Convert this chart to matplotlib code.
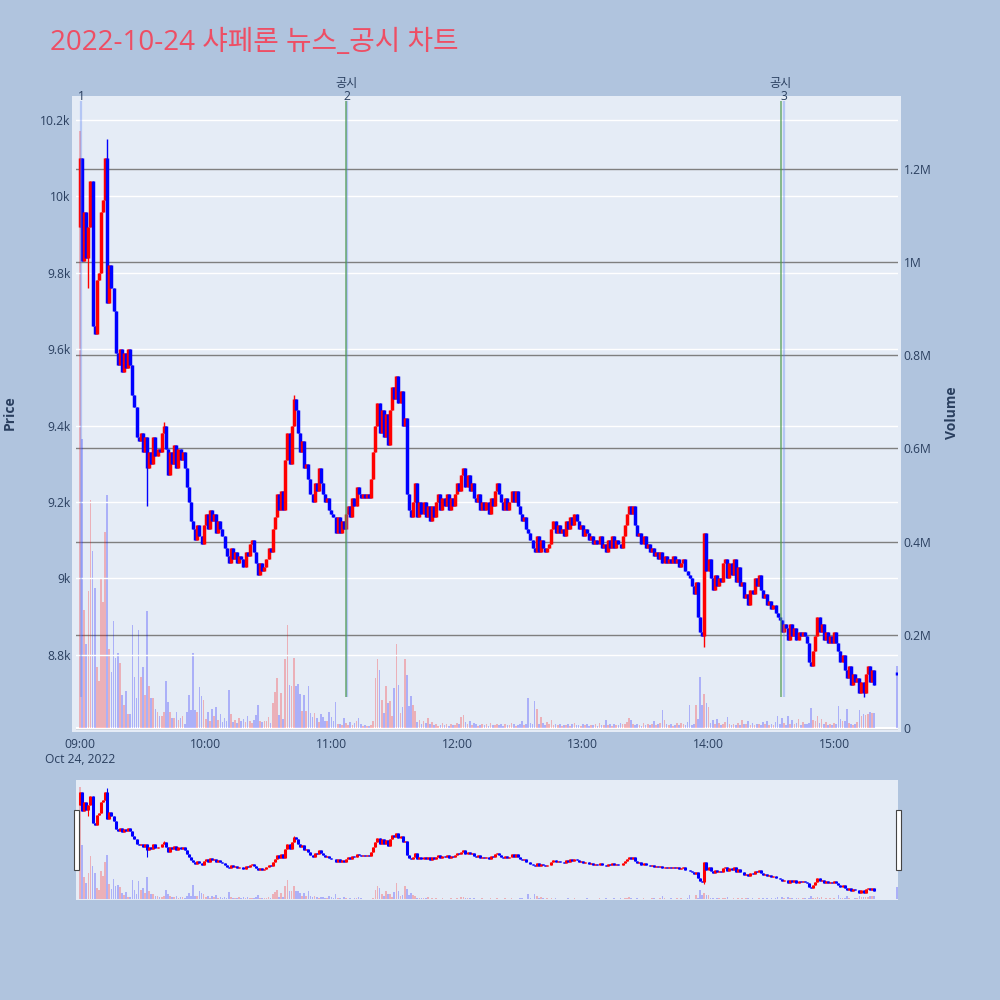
import matplotlib
matplotlib.use('Agg')
import matplotlib.pyplot as plt
from matplotlib.patches import Rectangle

title = '2022-10-24 샤페론 뉴스_공시 차트'
hour_labels = ['09:00', '10:00', '11:00', '12:00', '13:00', '14:00', '15:00']
date_label = 'Oct 24, 2022'

# one candle per minute from 09:00 (index 0) to 15:19, then the 15:30 closing auction
minutes = list(range(380)) + [390]
first_open = 9920
auction_open = 8750
closes = [
    10100, 9830, 9960, 9840, 9920, 10040, 9660, 9640, 9780, 9800,
    9960, 9990, 10100, 9720, 9820, 9760, 9700, 9590, 9560, 9600,
    9540, 9590, 9550, 9600, 9560, 9480, 9450, 9370, 9360, 9380,
    9330, 9370, 9290, 9330, 9300, 9370, 9320, 9340, 9330, 9380,
    9400, 9340, 9270, 9330, 9300, 9350, 9290, 9340, 9310, 9330,
    9290, 9240, 9200, 9150, 9130, 9100, 9140, 9110, 9090, 9140,
    9170, 9130, 9180, 9150, 9170, 9120, 9150, 9130, 9110, 9080,
    9060, 9040, 9080, 9050, 9070, 9040, 9060, 9050, 9030, 9070,
    9060, 9090, 9100, 9070, 9040, 9010, 9040, 9020, 9030, 9050,
    9080, 9070, 9130, 9160, 9220, 9180, 9230, 9180, 9310, 9380,
    9300, 9400, 9470, 9440, 9380, 9330, 9360, 9290, 9300, 9260,
    9220, 9200, 9250, 9230, 9290, 9250, 9220, 9200, 9210, 9180,
    9170, 9160, 9120, 9160, 9120, 9150, 9130, 9170, 9190, 9160,
    9210, 9190, 9240, 9220, 9210, 9220, 9210, 9220, 9210, 9260,
    9330, 9400, 9460, 9380, 9440, 9370, 9430, 9350, 9440, 9500,
    9470, 9530, 9460, 9490, 9400, 9420, 9220, 9180, 9160, 9200,
    9250, 9160, 9200, 9170, 9200, 9160, 9190, 9150, 9190, 9160,
    9200, 9220, 9180, 9210, 9190, 9220, 9180, 9210, 9190, 9220,
    9250, 9230, 9270, 9290, 9240, 9270, 9230, 9250, 9210, 9200,
    9220, 9180, 9200, 9180, 9200, 9170, 9210, 9190, 9230, 9250,
    9220, 9200, 9180, 9210, 9180, 9200, 9230, 9200, 9230, 9190,
    9170, 9150, 9160, 9130, 9120, 9100, 9080, 9070, 9110, 9070,
    9100, 9080, 9070, 9080, 9090, 9130, 9150, 9120, 9140, 9120,
    9130, 9110, 9150, 9130, 9160, 9140, 9170, 9150, 9130, 9140,
    9110, 9130, 9120, 9100, 9110, 9090, 9100, 9090, 9110, 9080,
    9090, 9070, 9100, 9080, 9110, 9080, 9100, 9090, 9080, 9110,
    9140, 9170, 9190, 9170, 9190, 9140, 9110, 9120, 9090, 9110,
    9080, 9090, 9070, 9080, 9060, 9070, 9050, 9070, 9040, 9060,
    9040, 9050, 9040, 9060, 9040, 9050, 9030, 9040, 9050, 9020,
    9010, 9000, 8980, 8960, 8990, 8900, 8860, 8850, 9120, 9020,
    9050, 9000, 8970, 9010, 8980, 9000, 8990, 9040, 9050, 9000,
    9040, 9010, 9050, 8990, 9030, 8980, 8990, 8950, 8960, 8930,
    8970, 8960, 9000, 8980, 9010, 8970, 8950, 8960, 8930, 8940,
    8920, 8930, 8910, 8900, 8890, 8860, 8880, 8870, 8840, 8880,
    8850, 8870, 8840, 8860, 8850, 8860, 8850, 8830, 8780, 8770,
    8810, 8850, 8900, 8860, 8880, 8840, 8860, 8830, 8850, 8830,
    8860, 8830, 8810, 8780, 8800, 8760, 8740, 8770, 8720, 8750,
    8730, 8740, 8700, 8730, 8700, 8750, 8770, 8730, 8760, 8720,
    8750,
]
wick_high = {13: 10150, 40: 9410, 102: 9480, 151: 9530, 262: 9190}
wick_low = {4: 9760, 7: 9640, 32: 9190, 298: 8820, 374: 8690}

# traded volume per minute, thousands of shares
volumes_k = [
    1280, 620, 254, 180, 293, 490, 380, 300, 130, 100,
    320, 270, 420, 500, 170, 120, 230, 150, 160, 140,
    70, 50, 80, 30, 30, 220, 110, 65, 210, 110,
    130, 70, 250, 90, 65, 65, 40, 35, 26, 26,
    35, 100, 56, 35, 22, 22, 35, 17, 22, 26,
    9, 35, 70, 39, 160, 39, 35, 89, 68, 61,
    20, 35, 15, 40, 25, 45, 18, 30, 12, 22,
    15, 81, 29, 12, 18, 10, 22, 14, 20, 12,
    25, 15, 10, 18, 27, 49, 14, 12, 15, 14,
    23, 10, 54, 77, 107, 28, 75, 20, 148, 220,
    92, 91, 151, 91, 94, 72, 36, 70, 36, 91,
    32, 24, 32, 21, 12, 29, 24, 16, 14, 35,
    24, 16, 55, 9, 9, 7, 21, 11, 7, 12,
    7, 11, 16, 21, 9, 5, 6, 5, 4, 6,
    14, 107, 148, 124, 61, 32, 91, 54, 57, 26,
    86, 180, 93, 32, 46, 147, 114, 48, 68, 50,
    36, 12, 18, 9, 15, 11, 21, 8, 12, 6,
    9, 5, 7, 10, 6, 8, 5, 9, 6, 7,
    10, 8, 24, 27, 12, 9, 15, 6, 10, 8,
    5, 7, 9, 6, 8, 5, 10, 7, 6, 9,
    6, 8, 5, 9, 7, 6, 10, 8, 5, 7,
    9, 14, 6, 8, 65, 11, 8, 57, 40, 9,
    24, 10, 6, 12, 8, 17, 7, 9, 6, 8,
    5, 7, 6, 9, 5, 8, 11, 6, 7, 5,
    8, 6, 9, 5, 7, 6, 8, 5, 10, 6,
    7, 17, 6, 8, 5, 9, 7, 6, 10, 8,
    9, 12, 22, 17, 8, 6, 9, 7, 5, 10,
    6, 8, 7, 9, 15, 6, 8, 10, 38, 17,
    8, 6, 9, 5, 7, 10, 6, 10, 8, 7,
    12, 49, 6, 8, 49, 19, 109, 49, 74, 53,
    46, 11, 17, 8, 19, 10, 7, 9, 12, 24,
    8, 6, 9, 7, 10, 6, 17, 8, 9, 15,
    7, 10, 6, 8, 9, 7, 12, 8, 15, 6,
    9, 7, 12, 26, 8, 21, 10, 7, 26, 9,
    17, 8, 10, 19, 7, 12, 9, 8, 11, 42,
    17, 16, 26, 10, 20, 8, 12, 7, 9, 6,
    10, 8, 47, 19, 16, 15, 41, 11, 8, 6,
    9, 12, 39, 26, 30, 27, 30, 35, 33, 33,
    134,
]

# events, minutes after 09:00
news_events = [('1', 0.5), ('2', 127.5), ('3', 336)]
disclosure_events = [127, 334.5]

price_ticks = [8800, 9000, 9200, 9400, 9600, 9800, 10000, 10200]
vol_ticks = [0, 200000, 400000, 600000, 800000, 1000000, 1200000]

# ---- derived candle values
opens = [first_open] + closes[:-2] + [auction_open]
highs, lows, up = [], [], []
for i, (o, c) in enumerate(zip(opens, closes)):
    highs.append(wick_high.get(i, max(o, c)))
    lows.append(wick_low.get(i, min(o, c)))
    up.append(c > o)
volumes = [v * 1000 for v in volumes_k]

RED, BLUE = '#ff0000', '#0000ff'
BG, PAPER, TXT = '#e5ecf6', '#b0c4de', '#2a3f5f'
plt.rcParams['font.family'] = ['Open Sans', 'Noto Sans CJK KR', 'DejaVu Sans']

fig = plt.figure(figsize=(10, 10), dpi=100, facecolor=PAPER)
fig.patches.append(Rectangle((0.072, 0.268), 0.829, 0.636, transform=fig.transFigure,
                             facecolor=BG, edgecolor='none', zorder=-5))

XLIM = (-1.91, 390.45)
PLIM = (8598, 10263)
VLIM = (-8600, 1356000)


def draw_candles(ax, body_lw, wick_lw):
    for i, m in enumerate(minutes):
        col = RED if up[i] else BLUE
        lo, hi = min(opens[i], closes[i]), max(opens[i], closes[i])
        if hi - lo < 8:
            lo, hi = lo - 4, hi + 4
        ax.vlines(m, lows[i], highs[i], color=col, lw=wick_lw, zorder=3)
        ax.vlines(m, lo, hi, color=col, lw=body_lw, zorder=4)


def vol_colors():
    return [(1, 0, 0, 0.25) if u else (0, 0, 1, 0.25) for u in up]


# ---- main panel
axp = fig.add_axes([0.076, 0.268, 0.822, 0.636])
axv = axp.twinx()
axv.set_zorder(axp.get_zorder() - 1)
axp.patch.set_visible(False)
axv.patch.set_visible(True)
axv.patch.set_facecolor(BG)

axv.bar(minutes, volumes, width=0.8, color=vol_colors(), zorder=2)
axv.set_ylim(*VLIM)
axv.set_yticks(vol_ticks)
axv.set_yticklabels(['0', '0.2M', '0.4M', '0.6M', '0.8M', '1M', '1.2M'])
axv.set_axisbelow(True)
axv.grid(axis='y', color='#7f7f7f', lw=1.0)
axv.axhline(0, color='white', lw=1.5, zorder=1)

draw_candles(axp, 2.5, 1.0)
axp.set_xlim(*XLIM)
axp.set_ylim(*PLIM)
axp.set_yticks(price_ticks)
axp.set_yticklabels(['8.8k', '9k', '9.2k', '9.4k', '9.6k', '9.8k', '10k', '10.2k'])
axp.set_axisbelow(True)
axp.grid(axis='y', color='white', lw=1.0)
axp.set_xticks([0, 60, 120, 180, 240, 300, 360])
axp.set_xticklabels([hour_labels[0] + '\n' + date_label] + hour_labels[1:],
                    multialignment='center', va='top')

for ax in (axp, axv):
    for s in ax.spines.values():
        s.set_visible(False)
    ax.tick_params(length=0, labelsize=8.7, labelcolor=TXT, pad=4)
axp.tick_params(axis='x', pad=4)

for label, m in news_events:
    axp.vlines(m, 8690, 10250, color=(0.35, 0.5, 0.95, 0.35), lw=1.6, zorder=5)
    axp.annotate(label, xy=(m, 1.0), xycoords=('data', 'axes fraction'),
                 xytext=(0, -1), textcoords='offset pixels', ha='center', va='center',
                 fontsize=8.7, color=TXT, zorder=7)
for m in disclosure_events:
    axp.vlines(m, 8690, 10250, color=(0.3, 0.6, 0.3, 0.8), lw=1.1, zorder=6)
    axp.annotate('공시', xy=(m, 1.0), xycoords=('data', 'axes fraction'),
                 xytext=(0, 12), textcoords='offset pixels', ha='center', va='center',
                 fontsize=8.7, color=TXT, zorder=7)

fig.text(0.010, 0.587, 'Price', rotation=90, ha='center', va='center',
         fontsize=10, fontweight='bold', color=TXT)
fig.text(0.952, 0.587, 'Volume', rotation=90, ha='center', va='center',
         fontsize=10, fontweight='bold', color=TXT)
fig.text(0.050, 0.957, title, ha='left', va='center', fontsize=20, color='#ee4e64')

# ---- range slider
axs = fig.add_axes([0.076, 0.100, 0.822, 0.120])
axs.set_facecolor(BG)
axs2 = axs.twinx()
axs.bar(minutes, volumes, width=0.8, color=vol_colors(), zorder=2)
axs.set_ylim(*VLIM)
axs2.set_ylim(*PLIM)
draw_candles(axs2, 2.2, 0.8)
axs.set_xlim(*XLIM)
for ax in (axs, axs2):
    ax.set_xticks([])
    ax.set_yticks([])
    for s in ax.spines.values():
        s.set_visible(False)

for hx in (0.0735, 0.8955):
    fig.patches.append(Rectangle((hx, 0.130), 0.005, 0.060, transform=fig.transFigure,
                                 facecolor='white', edgecolor='#444444', lw=0.8, zorder=10))

fig.savefig('out.png', dpi=100, facecolor=PAPER)
